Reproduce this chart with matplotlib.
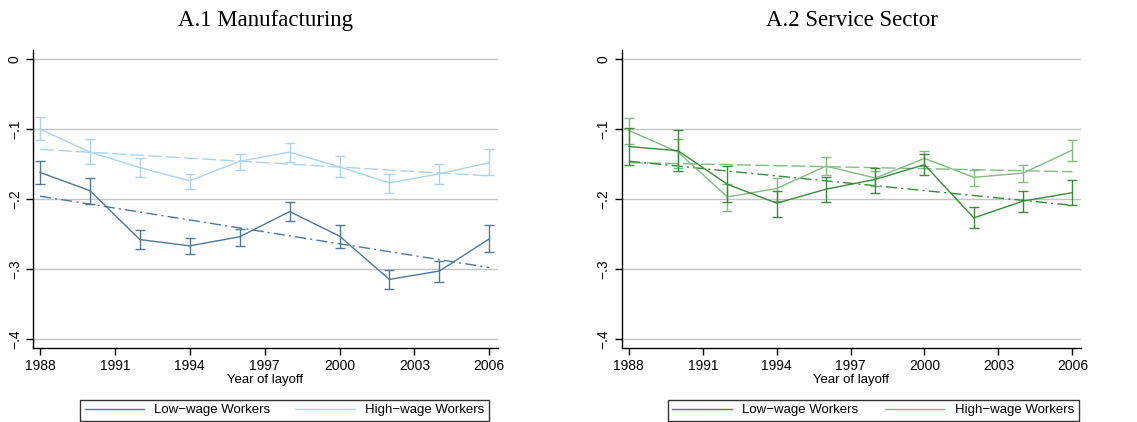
import numpy as np
import matplotlib.pyplot as plt
from matplotlib.lines import Line2D

years = [1988, 1990, 1992, 1994, 1996, 1998, 2000, 2002, 2004, 2006]

# A.1 Manufacturing: point estimates, CI bounds, fitted trend endpoints
mfg_low = [-0.162, -0.188, -0.258, -0.267, -0.254, -0.218, -0.253, -0.315, -0.303, -0.257]
mfg_low_hi = [-0.145, -0.170, -0.245, -0.256, -0.243, -0.204, -0.237, -0.301, -0.288, -0.237]
mfg_low_lo = [-0.178, -0.207, -0.271, -0.278, -0.267, -0.231, -0.270, -0.329, -0.318, -0.276]
mfg_high = [-0.100, -0.133, -0.155, -0.174, -0.146, -0.133, -0.154, -0.177, -0.164, -0.148]
mfg_high_hi = [-0.083, -0.114, -0.141, -0.164, -0.136, -0.120, -0.139, -0.164, -0.150, -0.129]
mfg_high_lo = [-0.116, -0.150, -0.169, -0.185, -0.159, -0.147, -0.169, -0.191, -0.179, -0.166]
mfg_low_trend = [-0.196, -0.298]
mfg_high_trend = [-0.129, -0.167]

# A.2 Service Sector
svc_low = [-0.125, -0.131, -0.179, -0.206, -0.186, -0.172, -0.151, -0.227, -0.203, -0.191]
svc_low_hi = [-0.098, -0.101, -0.153, -0.189, -0.168, -0.155, -0.136, -0.211, -0.189, -0.173]
svc_low_lo = [-0.152, -0.160, -0.205, -0.226, -0.204, -0.191, -0.166, -0.242, -0.218, -0.208]
svc_high = [-0.102, -0.133, -0.197, -0.185, -0.153, -0.170, -0.142, -0.169, -0.163, -0.130]
svc_high_hi = [-0.084, -0.114, -0.178, -0.170, -0.140, -0.160, -0.131, -0.158, -0.152, -0.116]
svc_high_lo = [-0.121, -0.155, -0.217, -0.203, -0.166, -0.182, -0.153, -0.182, -0.175, -0.145]
svc_low_trend = [-0.146, -0.209]
svc_high_trend = [-0.148, -0.161]

xticks = [1988, 1991, 1994, 1997, 2000, 2003, 2006]
yticks = [0, -0.1, -0.2, -0.3, -0.4]
ylabels = ['0', '\u2212.1', '\u2212.2', '\u2212.3', '\u2212.4']

plt.rcParams['font.family'] = ['Liberation Sans', 'DejaVu Sans']

fig = plt.figure(figsize=(11.37, 4.22), dpi=100)
ax1 = fig.add_axes([0.029, 0.1754, 0.409, 0.7061])
ax2 = fig.add_axes([0.547, 0.1754, 0.4037, 0.7061])


def panel(ax, title, low, low_lo, low_hi, high, high_lo, high_hi,
          low_tr, high_tr, c_low, c_high, leg_x0, leg_w):
    y = np.array
    ax.errorbar(years, high, yerr=[y(high) - y(high_lo), y(high_hi) - y(high)],
                color=c_high, lw=1.0, capsize=3.5, capthick=1.0, elinewidth=1.0,
                zorder=3)
    ax.errorbar(years, low, yerr=[y(low) - y(low_lo), y(low_hi) - y(low)],
                color=c_low, lw=1.0, capsize=3.5, capthick=1.0, elinewidth=1.0,
                zorder=4)
    ends = [years[0], years[-1]]
    ax.plot(ends, high_tr, color=c_high, lw=1.0, dashes=(10, 3), zorder=2)
    ax.plot(ends, low_tr, color=c_low, lw=1.0, dashes=(8, 3, 1.5, 3), zorder=2)

    ax.set_xlim(1987.72, 2006.35)
    ax.set_ylim(-0.413, 0.013)
    ax.set_xticks(xticks)
    ax.set_yticks(yticks)
    ax.set_yticklabels(ylabels, rotation=90, va='center')
    ax.tick_params(labelsize=10, length=5, width=1, direction='out', pad=3)
    for t in yticks:
        ax.axhline(t, color='#c4c4c4', lw=1, zorder=1)
    for s in ['top', 'right']:
        ax.spines[s].set_visible(False)
    for s in ['left', 'bottom']:
        ax.spines[s].set_linewidth(1)
    ax.set_xlabel('Year of layoff', fontsize=9.5, labelpad=1)
    ax.set_title(title, fontsize=16.5, family=['Liberation Serif'], pad=17)

    handles = [Line2D([], [], color=c_low, lw=1.0),
               Line2D([], [], color=c_high, lw=1.0)]
    labels = ['Low\u2212wage Workers', 'High\u2212wage Workers']
    leg = ax.legend(handles, labels, ncol=2, mode='expand',
                    bbox_to_anchor=(leg_x0, -0.245, leg_w, 0.082),
                    loc='lower left', fontsize=9.5, frameon=True,
                    fancybox=False, edgecolor='black', handlelength=4.5,
                    borderaxespad=0, borderpad=0.35)
    leg.get_frame().set_linewidth(1)


panel(ax1, 'A.1 Manufacturing', mfg_low, mfg_low_lo, mfg_low_hi,
      mfg_high, mfg_high_lo, mfg_high_hi, mfg_low_trend, mfg_high_trend,
      '#4f7896', '#a9d3ef', 0.101, 0.88)
panel(ax2, 'A.2 Service Sector', svc_low, svc_low_lo, svc_low_hi,
      svc_high, svc_high_lo, svc_high_hi, svc_low_trend, svc_high_trend,
      '#3a8a3c', '#80bb80', 0.100, 0.895)

fig.savefig('out.png', dpi=100)
